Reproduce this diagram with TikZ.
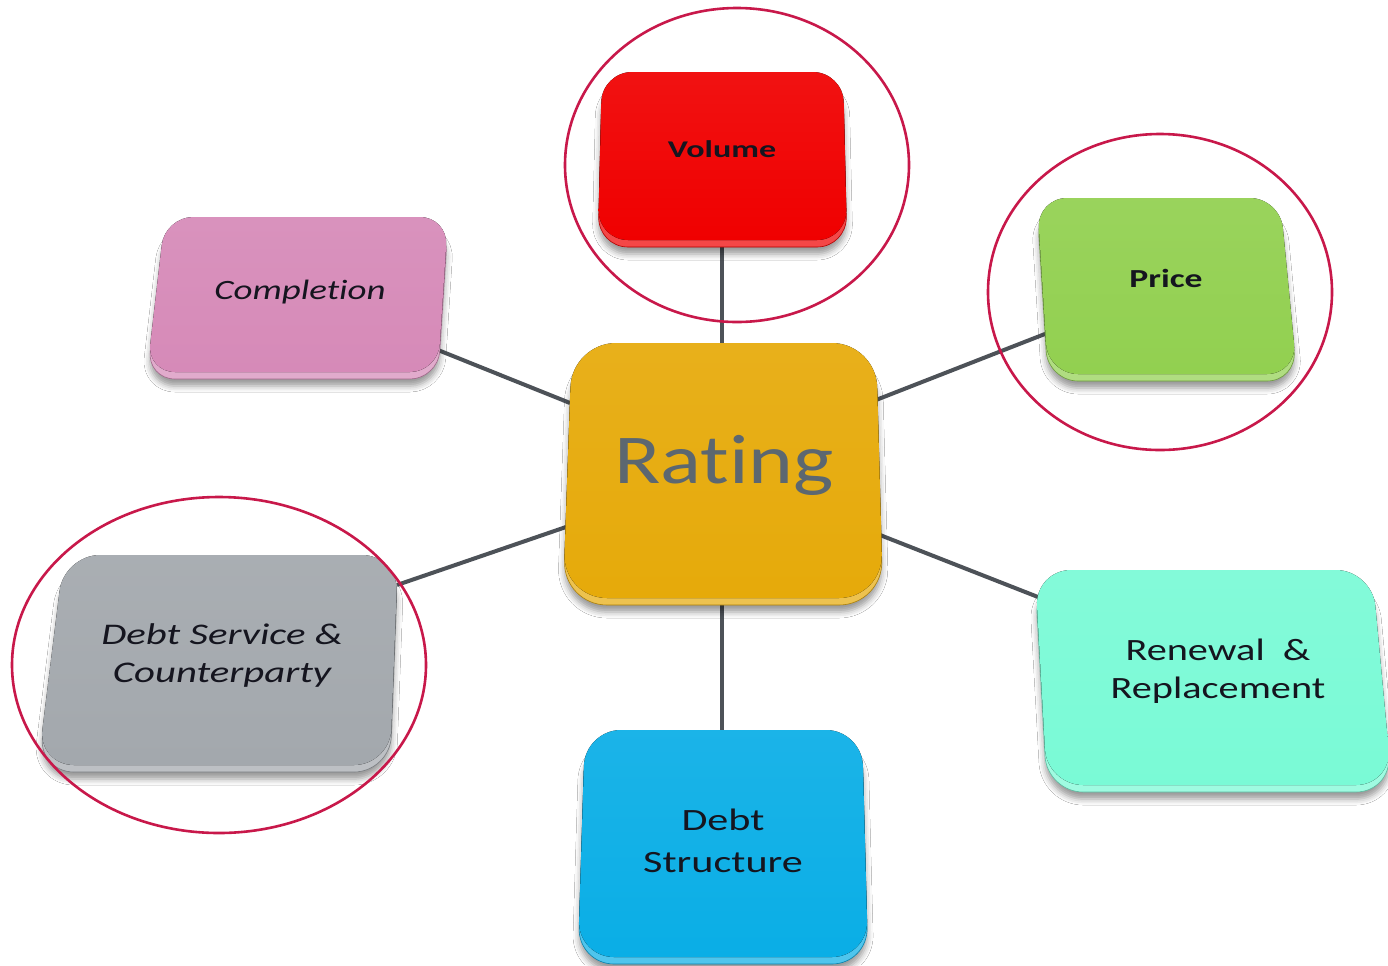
\documentclass[tikz,border=0pt]{standalone}
\usepackage{fontspec}
\setmainfont{Carlito}[Ligatures=NoCommon]
\usetikzlibrary{shadows.blur}

\definecolor{ratingc}{HTML}{E6AA0A}
\definecolor{volumec}{HTML}{F00000}
\definecolor{pricec}{HTML}{92D050}
\definecolor{complc}{HTML}{D68AB8}
\definecolor{servicec}{HTML}{A3A8AD}
\definecolor{renewc}{HTML}{7AFAD6}
\definecolor{structc}{HTML}{0AAEE6}
\definecolor{linkc}{HTML}{4D5258}
\definecolor{ringc}{HTML}{C8184A}
\definecolor{inkc}{HTML}{15151F}
\definecolor{ratingtext}{HTML}{5C6770}

% widen a piece of text horizontally
\newcommand\wide[2][1.34]{\scalebox{#1}[1]{#2}}

% a bevelled tile: #1 corner radius, #2 colour, #3..#6 corners TL, TR, BR, BL
\newcommand\tile[6]{%
  \fill[#2!72!white, draw=#2!75!black, line width=0.3pt, rounded corners=#1,
        blur shadow={shadow xshift=0pt, shadow yshift=-3.5pt,
                     shadow blur radius=3pt, shadow opacity=40}]
    ([yshift=-3.5pt]#3) -- ([yshift=-3.5pt]#4) -- ([yshift=-3.5pt]#5) -- ([yshift=-3.5pt]#6) -- cycle;
  \fill[rounded corners=#1, top color=#2!93!white, bottom color=#2]
    (#3) -- (#4) -- (#5) -- (#6) -- cycle;
}

\tikzset{
  link/.style={draw=linkc, line width=2pt},
  ring/.style={draw=ringc, line width=1.3pt},
  label/.style={text=inkc, inner sep=0pt},
}

\begin{document}
\begin{tikzpicture}[x=0.5pt, y=-0.5pt]
\path[use as bounding box, fill=white] (0,0) rectangle (1388,965);

% connector end points
\coordinate (rating-n)    at (722,346);
\coordinate (rating-s)    at (722,596);
\coordinate (rating-w1)   at (570,403);
\coordinate (rating-w2)   at (566,527);
\coordinate (rating-e1)   at (876,400);
\coordinate (rating-e2)   at (880,535);
\coordinate (volume-s)    at (722,238);
\coordinate (price-w)     at (1050,332);
\coordinate (compl-e)     at (438,350);
\coordinate (service-e)   at (397,585);
\coordinate (renew-w)     at (1038,597);
\coordinate (struct-n)    at (722,734);

% connectors
\draw[link] (volume-s) -- (rating-n);
\draw[link] (compl-e) -- (rating-w1);
\draw[link] (price-w) -- (rating-e1);
\draw[link] (service-e) -- (rating-w2);
\draw[link] (renew-w) -- (rating-e2);
\draw[link] (struct-n) -- (rating-s);

% tiles
\tile{22pt}{ratingc}{572,343}{876,343}{883,598}{563,598}
\tile{15pt}{volumec}{602,72}{843,72}{847,240}{598,240}
\tile{15pt}{pricec}{1037,198}{1280,198}{1297,374}{1048,374}
\tile{14pt}{complc}{165,217}{448,217}{438,372}{147,372}
\tile{18pt}{servicec}{64,555}{398,555}{390,765}{38,765}
\tile{18pt}{renewc}{1035,570}{1372,570}{1392,785}{1047,785}
\tile{18pt}{structc}{585,730}{862,730}{868,957}{578,957}

% labels
\node[label, text=ratingtext, anchor=base, font=\fontsize{35}{40}\selectfont]
  (rating) at (724,483) {\wide[1.22]{Rating}};
\node[label, anchor=base, font=\bfseries\fontsize{12}{14}\selectfont]
  (volume) at (722,157) {\wide[1.42]{Volume}};
\node[label, anchor=base, font=\bfseries\fontsize{13}{15}\selectfont]
  (price) at (1166,287) {\wide[1.37]{Price}};
\node[label, anchor=base, font=\itshape\fontsize{14}{16}\selectfont]
  (compl) at (300,299) {\wide[1.32]{Completion}};
\node[label, align=center, font=\itshape\fontsize{15}{19}\selectfont]
  (service) at (222,655) {\wide[1.36]{Debt Service \&}\\\wide[1.36]{Counterparty}};
\node[label, align=center, font=\fontsize{15.5}{19}\selectfont]
  (renew) at (1218,671) {\wide[1.3]{Renewal\ \ \&}\\\wide[1.3]{Replacement}};
\node[label, align=center, font=\fontsize{15.5}{21}\selectfont]
  (struct) at (723,841) {\wide[1.36]{Debt}\\\wide[1.36]{Structure}};

% highlight rings
\draw[ring] (737,165) ellipse [x radius=172, y radius=157];
\draw[ring] (1160,292) ellipse [x radius=172, y radius=158];
\draw[ring] (219,665) ellipse [x radius=207, y radius=168];
\end{tikzpicture}
\end{document}
